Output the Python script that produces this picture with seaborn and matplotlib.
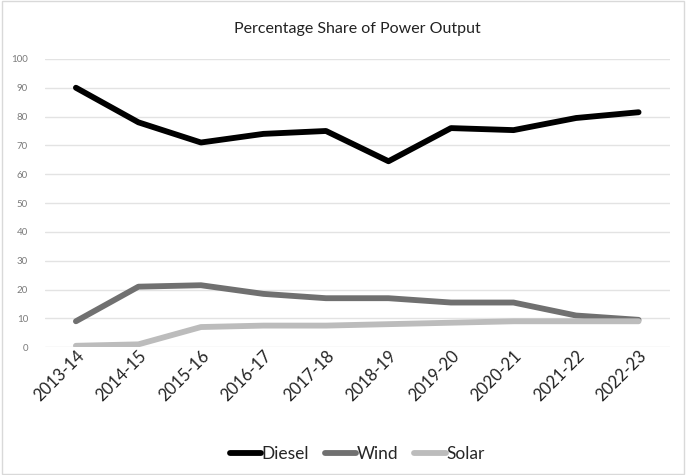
import matplotlib
matplotlib.use("Agg")
import matplotlib.pyplot as plt
import seaborn as sns
import pandas as pd
from matplotlib.patches import Rectangle

# Data
years = ["2013-14", "2014-15", "2015-16", "2016-17", "2017-18",
         "2018-19", "2019-20", "2020-21", "2021-22", "2022-23"]
diesel = [90, 78, 71, 74, 75, 64.5, 76, 75.3, 79.5, 81.5]
wind = [9, 21, 21.5, 18.5, 17, 17, 15.5, 15.5, 11, 9.5]
solar = [0.5, 1, 7, 7.5, 7.5, 8, 8.5, 9, 9, 9]
series = ["Diesel", "Wind", "Solar"]
colors = ["#000000", "#707070", "#bcbcbc"]

df = pd.DataFrame({"Year": years, "Diesel": diesel, "Wind": wind, "Solar": solar})
long = df.melt(id_vars="Year", var_name="Source", value_name="Share")

sns.set_theme(style="white")
plt.rcParams['font.family'] = ['Lato', 'DejaVu Sans']

fig = plt.figure(figsize=(6.87, 4.75), dpi=100)
ax = fig.add_axes([0.065, 0.269, 0.91, 0.607])

sns.lineplot(data=long, x="Year", y="Share", hue="Source", hue_order=series,
             palette=dict(zip(series, colors)), linewidth=4.2, sort=False, ax=ax)

ax.set_ylim(0, 100)
ax.set_xlim(-0.5, len(years) - 0.5)
ax.set_yticks(range(0, 101, 10))
ax.yaxis.grid(True, color="#e3e3e3", linewidth=1)
ax.set_axisbelow(True)
for s in ax.spines.values():
    s.set_visible(False)
ax.set_xlabel("")
ax.set_ylabel("")
ax.tick_params(axis="y", labelsize=7, colors="#7a7a7a", length=0, pad=12)
ax.tick_params(axis="x", labelsize=12, colors="#222222", length=0, pad=0)
plt.setp(ax.get_xticklabels(), rotation=45, ha="right", rotation_mode="anchor")

ax.set_title("Percentage Share of Power Output", fontsize=11.5, color="#222222", pad=19)

leg = ax.legend(loc="upper center", bbox_to_anchor=(0.5, -0.29), ncol=3, frameon=False,
                fontsize=12.5, handlelength=1.8, handletextpad=0.05, columnspacing=0.9)
for line in leg.get_lines():
    line.set_linewidth(4.2)

# figure frame
fig.patches.append(Rectangle((0.003, 0.003), 0.992, 0.994, transform=fig.transFigure,
                             fill=False, edgecolor="#d9d9d9", linewidth=1))

fig.savefig("out.png", dpi=100)
